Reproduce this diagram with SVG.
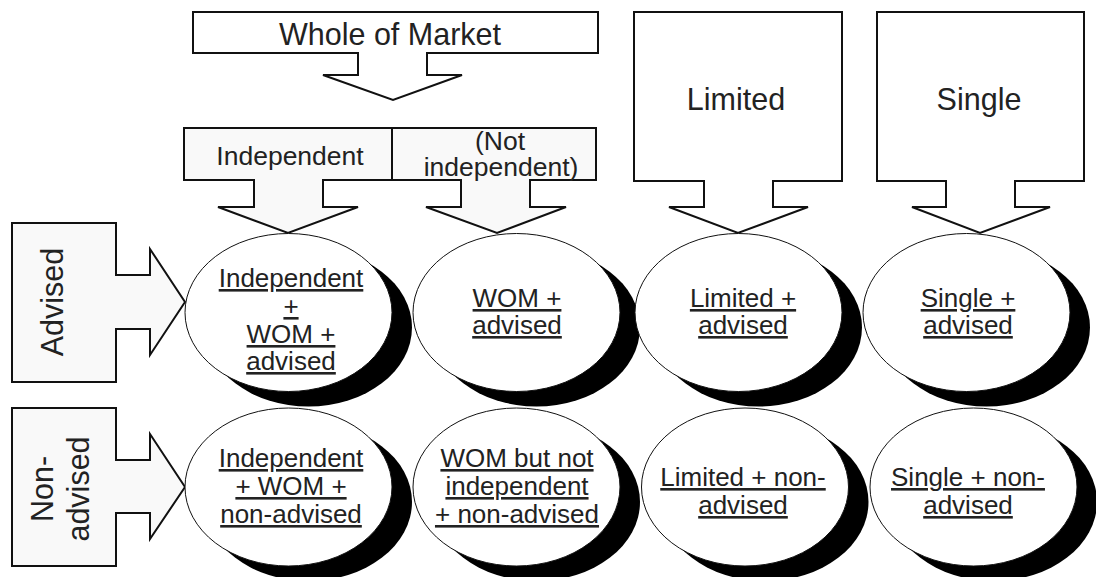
<svg xmlns="http://www.w3.org/2000/svg" width="1096" height="577" viewBox="0 0 1096 577">
<style>
.box{fill:#ffffff;stroke:#111;stroke-width:2;stroke-linejoin:miter}
.grey{fill:#f9f9f9}
.shadow{fill:#000}
.ell{fill:#fff;stroke:#111;stroke-width:1}
text{font-family:"Liberation Sans",Arial,sans-serif;fill:#222}
.big{font-size:30.5px}
.mid{font-size:26.5px}
.lbl{font-size:26px;text-anchor:middle;text-decoration:underline}
.c{text-anchor:middle}
</style>
<rect width="1096" height="577" fill="#fff"/>
<g id="whole-of-market">
<path class="box" d="M193,12 H598 V53 H427 V75 H462 L393,100 L323,75 H358 V53 H193 Z"/>
<text class="big c" x="390" y="45">Whole of Market</text>
</g>
<g id="independent">
<path class="box grey" d="M184,128 H392 V180 H323 V207 H358 L288,233 L218,207 H254 V180 H184 Z"/>
<text class="mid c" x="290" y="165">Independent</text>
</g>
<g id="not-independent">
<path class="box grey" d="M392,128 H596 V180 H530 V207 H566 L497,233 L426,207 H461 V180 H392 Z"/>
<text class="mid c" x="500" y="150">(Not</text>
<text class="mid c" x="501" y="176">independent)</text>
</g>
<g id="limited">
<path class="box" d="M634,12 H842 V181 H773 V207 H808 L738,233 L669,207 H704 V181 H634 Z"/>
<text class="big c" x="736" y="110">Limited</text>
</g>
<g id="single">
<path class="box" d="M877,12 H1084 V181 H1015 V207 H1050 L980,233 L912,207 H946 V181 H877 Z"/>
<text class="big c" x="979" y="110">Single</text>
</g>
<g id="advised">
<path class="box grey" d="M12,223 H116 V275 H150 V249 L185,302 L150,355 V329 H116 V382 H12 Z"/>
<text class="big c" transform="translate(63,302) rotate(-90)">Advised</text>
</g>
<g id="non-advised">
<path class="box grey" d="M12,408 H116 V460 H150 V434 L185,487 L150,539 V513 H116 V566 H12 Z"/>
<text class="big c" transform="translate(53,489) rotate(-90)">Non-</text>
<text class="big c" transform="translate(89,489) rotate(-90)">advised</text>
</g>
<g id="connectors"></g>
<g id="ind-wom-advised">
<ellipse class="shadow" cx="308.5" cy="327.5" rx="103.5" ry="79"/>
<ellipse class="ell" cx="288.5" cy="312.5" rx="103.5" ry="79"/>
<text class="lbl" x="291" y="287">Independent</text>
<text class="lbl" x="291" y="315">+</text>
<text class="lbl" x="291" y="343">WOM +</text>
<text class="lbl" x="291" y="370">advised</text>
</g>
<g id="wom-advised">
<ellipse class="shadow" cx="536.5" cy="327.5" rx="103.5" ry="79"/>
<ellipse class="ell" cx="516.5" cy="312.5" rx="103.5" ry="79"/>
<text class="lbl" x="517" y="307">WOM +</text>
<text class="lbl" x="517" y="334">advised</text>
</g>
<g id="limited-advised">
<ellipse class="shadow" cx="758.5" cy="327.5" rx="103.5" ry="79"/>
<ellipse class="ell" cx="738.5" cy="312.5" rx="103.5" ry="79"/>
<text class="lbl" x="743" y="307">Limited +</text>
<text class="lbl" x="743" y="334">advised</text>
</g>
<g id="single-advised">
<ellipse class="shadow" cx="986.5" cy="327.5" rx="103.5" ry="79"/>
<ellipse class="ell" cx="966.5" cy="312.5" rx="103.5" ry="79"/>
<text class="lbl" x="968" y="307">Single +</text>
<text class="lbl" x="968" y="334">advised</text>
</g>
<g id="ind-wom-nonadvised">
<ellipse class="shadow" cx="308.5" cy="502" rx="103.5" ry="79"/>
<ellipse class="ell" cx="288.5" cy="487" rx="103.5" ry="79"/>
<text class="lbl" x="291" y="467">Independent</text>
<text class="lbl" x="291" y="495">+ WOM +</text>
<text class="lbl" x="291" y="523">non-advised</text>
</g>
<g id="wom-not-ind-nonadvised">
<ellipse class="shadow" cx="536.5" cy="502" rx="103.5" ry="79"/>
<ellipse class="ell" cx="516.5" cy="487" rx="103.5" ry="79"/>
<text class="lbl" x="517" y="467">WOM but not</text>
<text class="lbl" x="517" y="495">independent</text>
<text class="lbl" x="517" y="523">+ non-advised</text>
</g>
<g id="limited-nonadvised">
<ellipse class="shadow" cx="765" cy="502" rx="103.5" ry="79"/>
<ellipse class="ell" cx="745" cy="487" rx="103.5" ry="79"/>
<text class="lbl" x="743" y="486">Limited + non-</text>
<text class="lbl" x="743" y="514">advised</text>
</g>
<g id="single-nonadvised">
<ellipse class="shadow" cx="993.5" cy="502" rx="103.5" ry="79"/>
<ellipse class="ell" cx="973.5" cy="487" rx="103.5" ry="79"/>
<text class="lbl" x="968" y="486">Single + non-</text>
<text class="lbl" x="968" y="514">advised</text>
</g>
</svg>
